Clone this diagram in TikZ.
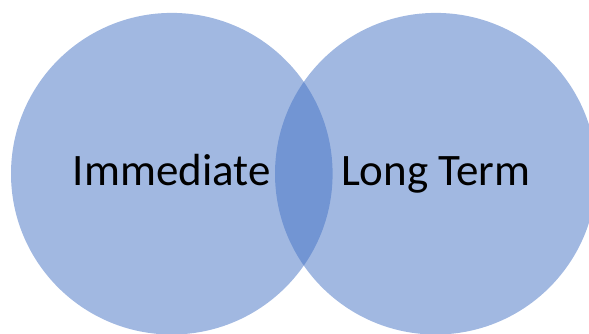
\documentclass[tikz,border=0pt]{standalone}
\usepackage{fontspec}
\setmainfont{Carlito}
\usetikzlibrary{positioning}
\definecolor{vennblue}{HTML}{4472C4}

\begin{document}
\begin{tikzpicture}[x=1pt,y=-1pt,on grid,
    venn/.style={circle,fill=vennblue,fill opacity=0.5,minimum size=321.6pt,inner sep=0pt},
    lbl/.style={font=\fontsize{45}{54}\selectfont,text=black,anchor=base,inner sep=0pt}]
  \useasboundingbox (0,0) rectangle (589,333);
  \node[venn] (immediate) at (171.8,173.7) {};
  \node[venn] (longterm)  [right=264pt of immediate] {};

  \node[lbl] (immediate text) at ([yshift=-11.5pt]immediate.center) {Immediate};
  \node[lbl] (longterm text)  at ([yshift=-11.5pt]longterm.center)  {Long Term};
\end{tikzpicture}
\end{document}
